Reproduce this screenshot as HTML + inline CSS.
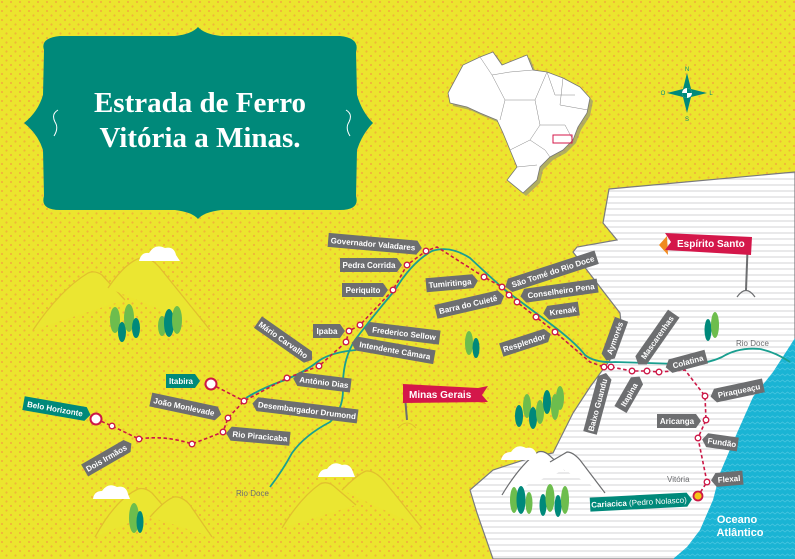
<!DOCTYPE html>
<html><head><meta charset="utf-8">
<style>
html,body{margin:0;padding:0;background:#ece52e;}
svg{display:block;}
.t{font-family:"Liberation Sans",sans-serif;font-size:8px;font-weight:bold;fill:#fff;}
.s{font-family:"Liberation Sans",sans-serif;}
.ti{font-family:"Liberation Serif",serif;font-size:29px;font-weight:bold;fill:#fff;}
</style></head><body>
<svg width="795" height="559" viewBox="0 0 795 559" xmlns="http://www.w3.org/2000/svg">
<defs>
<pattern id="dots" width="9" height="9" patternUnits="userSpaceOnUse">
<circle cx="2" cy="2" r="1.1" fill="#f0b43a"/><circle cx="6.5" cy="6.5" r="1.1" fill="#f0b43a"/>
</pattern>
<pattern id="stripes" width="10" height="6" patternUnits="userSpaceOnUse">
<rect width="10" height="6" fill="#fff"/><line x1="0" y1="5" x2="10" y2="5" stroke="#c8c8cc" stroke-width="0.8"/>
</pattern>
<pattern id="waves" width="10" height="6" patternUnits="userSpaceOnUse">
<rect width="10" height="6" fill="#1ab4d4"/><path d="M0,4 L2.5,2 L5,4 L7.5,2 L10,4" stroke="#4cc6e0" stroke-width="0.7" fill="none"/>
</pattern>
</defs>
<rect width="795" height="559" fill="#ece52e"/>
<rect width="795" height="559" fill="url(#dots)"/>

<!-- ES land -->
<path d="M609,189 L795,172 L795,559 L493,559 L477,513 L470,490 L493,470 L533,457 L553,453 L573,413 L590,387 L610,360 L622,333 L620,313 L573,252 L577,247 L617,240 L603,223 Z" fill="url(#stripes)" stroke="#7a7a7e" stroke-width="1.2"/>
<path d="M795,338 L773,372 L753,397 L737,433 L720,473 L713,500 L700,530 L687,547 L673,559 L795,559 Z" fill="url(#waves)"/>
<text class="s" x="737" y="523" font-size="11" font-weight="bold" fill="#fff" text-anchor="middle">Oceano</text>
<text class="s" x="740" y="536" font-size="11" font-weight="bold" fill="#fff" text-anchor="middle">Atlântico</text>

<!-- hills -->
<g fill="#ebe631" stroke="#e2c02e" stroke-width="1.3">
<path d="M33,330 Q60,290 88,273 Q95,270 102,275 L125,300"/>
<path d="M108,288 Q125,263 140,258 Q150,256 160,268 L210,330"/>
<path d="M95,537 Q115,500 138,489 Q145,487 152,493 L165,508"/>
<path d="M150,517 Q165,500 174,497 Q182,496 190,505 L212,537"/>
<path d="M282,528 Q300,498 320,484 Q328,480 336,488 L356,505"/>
<path d="M342,490 Q358,474 366,471 Q375,470 385,482 L422,528"/>
</g>
<g fill="#fff" stroke="#6d6e70" stroke-width="1.2">
<path d="M502,495 Q520,465 538,452 Q544,450 550,456 L565,470"/>
<path d="M550,462 Q562,455 567,452 Q573,452 580,460 L605,493"/>
</g>
<g fill="#fff">
<path d="M139,261 Q141,252 149,253 Q155,243 165,248 Q174,246 176,255 L180,261 Z"/>
<path d="M93,499 Q94,491 102,491 Q108,482 117,487 Q126,485 128,494 L130,499 Z"/>
<path d="M318,477 Q320,469 327,469 Q333,460 342,465 Q350,463 353,472 L355,477 Z"/>
<path d="M501,460 Q503,452 511,452 Q517,443 526,448 Q534,446 537,455 L539,460 Z"/>
</g>

<!-- trees -->
<g>
<ellipse cx="115" cy="320" rx="5" ry="13" fill="#6dbd4d"/><ellipse cx="122" cy="332" rx="4" ry="10" fill="#00897a"/>
<ellipse cx="129" cy="318" rx="5" ry="14" fill="#6dbd4d"/><ellipse cx="136" cy="328" rx="4" ry="10" fill="#00897a"/>
<ellipse cx="162" cy="326" rx="4" ry="10" fill="#6dbd4d"/><ellipse cx="169" cy="323" rx="5" ry="14" fill="#00897a"/><ellipse cx="177" cy="320" rx="5" ry="14" fill="#6dbd4d"/>
<ellipse cx="134" cy="518" rx="5" ry="15" fill="#6dbd4d"/><ellipse cx="140" cy="522" rx="3.5" ry="11" fill="#00897a"/>
<ellipse cx="469" cy="343" rx="4" ry="12" fill="#6dbd4d"/><ellipse cx="476" cy="348" rx="3.5" ry="10" fill="#00897a"/>
<ellipse cx="519" cy="416" rx="4" ry="11" fill="#00897a"/><ellipse cx="527" cy="406" rx="4" ry="12" fill="#6dbd4d"/><ellipse cx="533" cy="418" rx="4" ry="11" fill="#00897a"/>
<ellipse cx="540" cy="412" rx="4" ry="12" fill="#6dbd4d"/><ellipse cx="547" cy="402" rx="4" ry="12" fill="#00897a"/><ellipse cx="555" cy="407" rx="4" ry="13" fill="#6dbd4d"/><ellipse cx="560" cy="398" rx="4" ry="12" fill="#6dbd4d"/>
<ellipse cx="514" cy="500" rx="4" ry="13" fill="#6dbd4d"/><ellipse cx="521" cy="500" rx="4.5" ry="14" fill="#00897a"/><ellipse cx="529" cy="503" rx="3.5" ry="11" fill="#6dbd4d"/>
<ellipse cx="543" cy="505" rx="3.5" ry="11" fill="#00897a"/><ellipse cx="550" cy="498" rx="4.5" ry="14" fill="#6dbd4d"/><ellipse cx="558" cy="506" rx="3.5" ry="11" fill="#00897a"/><ellipse cx="565" cy="500" rx="4" ry="14" fill="#6dbd4d"/>
<ellipse cx="708" cy="330" rx="3.5" ry="11" fill="#00897a"/><ellipse cx="715" cy="325" rx="4" ry="13" fill="#6dbd4d"/>
</g>

<!-- rivers -->
<g fill="none" stroke="#1a9f90" stroke-width="1.8">
<path d="M270,487 Q283,470 292,453 Q305,435 330,422 Q343,410 343,390 Q342,360 355,340 Q370,320 395,290 Q412,262 432,251 Q450,245 470,258 Q488,275 505,290 Q525,305 548,322 Q575,342 585,355 Q595,363 615,362 L680,364 Q705,365 722,357 Q738,347 760,349 Q775,352 790,362"/>
<path d="M246,398 Q262,388 285,380 Q305,372 320,360 Q333,352 356,350"/>
</g>
<text class="s" x="236" y="496" font-size="8" fill="#6d6e70">Rio Doce</text>
<text class="s" x="736" y="346" font-size="8" fill="#6d6e70">Rio Doce</text>
<text class="s" x="667" y="482" font-size="8" fill="#6d6e70">Vitória</text>

<!-- railway -->
<g fill="none" stroke="#cc1746" stroke-width="1.6" stroke-dasharray="3.5,2.5">
<path d="M96,419 L112,426 L139,439 Q165,435 192,444 L223,432 L228,418 L244,401 L287,378 L319,366 L346,342 L349,331 L360,325 L393,290 L407,265 L426,251 L437,247 L484,277 L502,287 L509,295 L517,302 L536,317 L555,332 L590,362 L604,367 L611,367 L632,371 L647,371 L659,372 L685,370 L705,396 L706,420 L698,438 L707,482 L698,496"/>
<path d="M211,384 L244,401"/>
</g>
<g fill="#fff" stroke="#cc1746" stroke-width="1.3">
<circle cx="112" cy="426" r="2.8"/><circle cx="139" cy="439" r="2.8"/><circle cx="192" cy="444" r="2.8"/><circle cx="223" cy="432" r="2.8"/><circle cx="228" cy="418" r="2.8"/><circle cx="244" cy="401" r="2.8"/>
<circle cx="287" cy="378" r="2.8"/><circle cx="319" cy="366" r="2.8"/><circle cx="346" cy="342" r="2.8"/><circle cx="349" cy="331" r="2.8"/><circle cx="360" cy="325" r="2.8"/>
<circle cx="393" cy="290" r="2.8"/><circle cx="407" cy="265" r="2.8"/><circle cx="426" cy="251" r="2.8"/>
<circle cx="484" cy="277" r="2.8"/><circle cx="502" cy="287" r="2.8"/><circle cx="509" cy="295" r="2.8"/><circle cx="517" cy="302" r="2.8"/><circle cx="536" cy="317" r="2.8"/><circle cx="555" cy="332" r="2.8"/>
<circle cx="604" cy="367" r="2.8"/><circle cx="611" cy="367" r="2.8"/><circle cx="632" cy="371" r="2.8"/><circle cx="647" cy="371" r="2.8"/><circle cx="659" cy="372" r="2.8"/>
<circle cx="705" cy="396" r="2.8"/><circle cx="706" cy="420" r="2.8"/><circle cx="698" cy="438" r="2.8"/><circle cx="707" cy="482" r="2.8"/>
<circle cx="96" cy="419" r="5.5" stroke-width="2"/><circle cx="211" cy="384" r="5.5" stroke-width="2"/>
</g>
<circle cx="698" cy="496" r="4.5" fill="#f5c518" stroke="#cc1746" stroke-width="1.8"/>

<!-- labels -->
<g fill="#6d6e70">
<g transform="translate(375,244) rotate(5)"><polygon points="-47,-7 42,-7 47,0 42,7 -47,7"/><text class="t" x="-2" y="3" text-anchor="middle">Governador Valadares</text></g>
<g transform="translate(371,265)"><polygon points="-31,-7 26,-7 31,0 26,7 -31,7"/><text class="t" x="-2" y="3" text-anchor="middle">Pedra Corrida</text></g>
<g transform="translate(365,290)"><polygon points="-23,-7 18,-7 23,0 18,7 -23,7"/><text class="t" x="-2" y="3" text-anchor="middle">Periquito</text></g>
<g transform="translate(452,283) rotate(-5)"><polygon points="-26,-7 21,-7 26,0 21,7 -26,7"/><text class="t" x="-2" y="3" text-anchor="middle">Tumiritinga</text></g>
<g transform="translate(551,272) rotate(-18)"><polygon points="-48,0 -43,-7 48,-7 48,7 -43,7"/><text class="t" x="2" y="3" text-anchor="middle">São Tomé do Rio Doce</text></g>
<g transform="translate(470,304) rotate(-13)"><polygon points="-35,-7 30,-7 35,0 30,7 -35,7"/><text class="t" x="-2" y="3" text-anchor="middle">Barra do Cuietê</text></g>
<g transform="translate(559,291) rotate(-8)"><polygon points="-39,0 -34,-7 39,-7 39,7 -34,7"/><text class="t" x="2" y="3" text-anchor="middle">Conselheiro Pena</text></g>
<g transform="translate(561,311) rotate(-8)"><polygon points="-18,0 -13,-7 18,-7 18,7 -13,7"/><text class="t" x="2" y="3" text-anchor="middle">Krenak</text></g>
<g transform="translate(526,342) rotate(-18)"><polygon points="-26,-7 21,-7 26,0 21,7 -26,7"/><text class="t" x="-2" y="3" text-anchor="middle">Resplendor</text></g>
<g transform="translate(402,333) rotate(7)"><polygon points="-38,0 -33,-7 38,-7 38,7 -33,7"/><text class="t" x="2" y="3" text-anchor="middle">Frederico Sellow</text></g>
<g transform="translate(393,350) rotate(10)"><polygon points="-42,0 -37,-7 42,-7 42,7 -37,7"/><text class="t" x="2" y="3" text-anchor="middle">Intendente Câmara</text></g>
<g transform="translate(329,331)"><polygon points="-16,-7 11,-7 16,0 11,7 -16,7"/><text class="t" x="-2" y="3" text-anchor="middle">Ipaba</text></g>
<g transform="translate(285,341) rotate(35)"><polygon points="-33,-7 28,-7 33,0 28,7 -33,7"/><text class="t" x="-2" y="3" text-anchor="middle">Mário Carvalho</text></g>
<g transform="translate(322,382) rotate(7)"><polygon points="-29,0 -24,-7 29,-7 29,7 -24,7"/><text class="t" x="2" y="3" text-anchor="middle">Antônio Dias</text></g>
<g transform="translate(305,410) rotate(7)"><polygon points="-53,0 -48,-7 53,-7 53,7 -48,7"/><text class="t" x="2" y="3" text-anchor="middle">Desembargador Drumond</text></g>
<g transform="translate(186,407) rotate(12)"><polygon points="-36,-7 31,-7 36,0 31,7 -36,7"/><text class="t" x="-2" y="3" text-anchor="middle">João Monlevade</text></g>
<g transform="translate(258,436) rotate(5)"><polygon points="-32,0 -27,-7 32,-7 32,7 -27,7"/><text class="t" x="2" y="3" text-anchor="middle">Rio Piracicaba</text></g>
<g transform="translate(108,457) rotate(-30)"><polygon points="-27,-7 22,-7 27,0 22,7 -27,7"/><text class="t" x="-2" y="3" text-anchor="middle">Dois Irmãos</text></g>
<g transform="translate(614,340) rotate(-70)"><polygon points="-22,0 -17,-7 22,-7 22,7 -17,7"/><text class="t" x="2" y="3" text-anchor="middle">Aymorés</text></g>
<g transform="translate(656,339) rotate(-55)"><polygon points="-31,0 -26,-7 31,-7 31,7 -26,7"/><text class="t" x="2" y="3" text-anchor="middle">Mascarenhas</text></g>
<g transform="translate(686,362) rotate(-15)"><polygon points="-21,0 -16,-7 21,-7 21,7 -16,7"/><text class="t" x="2" y="3" text-anchor="middle">Colatina</text></g>
<g transform="translate(598,403) rotate(-75)"><polygon points="-31,-7 26,-7 31,0 26,7 -31,7"/><text class="t" x="-2" y="3" text-anchor="middle">Baixo Guandu</text></g>
<g transform="translate(630,393) rotate(-60)"><polygon points="-19,-7 14,-7 19,0 14,7 -19,7"/><text class="t" x="-2" y="3" text-anchor="middle">Itapina</text></g>
<g transform="translate(737,391) rotate(-12)"><polygon points="-27,0 -22,-7 27,-7 27,7 -22,7"/><text class="t" x="2" y="3" text-anchor="middle">Piraqueaçu</text></g>
<g transform="translate(679,421)"><polygon points="-22,-7 17,-7 22,0 17,7 -22,7"/><text class="t" x="-2" y="3" text-anchor="middle">Aricanga</text></g>
<g transform="translate(720,442) rotate(8)"><polygon points="-18,0 -13,-7 18,-7 18,7 -13,7"/><text class="t" x="2" y="3" text-anchor="middle">Fundão</text></g>
<g transform="translate(727,479) rotate(-5)"><polygon points="-16,0 -11,-7 16,-7 16,7 -11,7"/><text class="t" x="2" y="3" text-anchor="middle">Flexal</text></g>
</g>
<g fill="#00897a">
<g transform="translate(57,409) rotate(10)"><polygon points="-34,-7 29,-7 34,0 29,7 -34,7"/><text class="t" x="-2" y="3" text-anchor="middle">Belo Horizonte</text></g>
<g transform="translate(183,381)"><polygon points="-17,-7 12,-7 17,0 12,7 -17,7"/><text class="t" x="-2" y="3" text-anchor="middle">Itabira</text></g>
<g transform="translate(641,502) rotate(-3)"><polygon points="-51,-7 46,-7 51,0 46,7 -51,7"/><text class="t" x="-2" y="3" text-anchor="middle">Cariacica <tspan font-weight="normal">(Pedro Nolasco)</tspan></text></g>
</g>

<!-- flags -->
<line x1="404" y1="385" x2="407" y2="420" stroke="#6d6e70" stroke-width="2"/>
<path d="M398,428 Q407,418 416,428" fill="none" stroke="#e2c02e" stroke-width="1"/>
<polygon points="479,393 486,404 470,400" fill="#f08a20"/>
<polygon points="403,384 478,388 488,386 482,395 488,402 403,403" fill="#d4174a"/>
<text class="s" x="409" y="398" font-size="10" font-weight="bold" fill="#fff">Minas Gerais</text>
<line x1="748" y1="237" x2="746" y2="290" stroke="#6d6e70" stroke-width="2"/>
<path d="M737,297 Q746,284 755,297" fill="none" stroke="#6d6e70" stroke-width="1.2"/>
<polygon points="659,245 667,236 668,255" fill="#f08a20"/>
<polygon points="665,233 752,237 751,255 665,250 671,242" fill="#d4174a"/>
<text class="s" x="677" y="247" font-size="10" font-weight="bold" fill="#fff">Espírito Santo</text>

<!-- title plaque -->
<path d="M44,50 Q40,38 60,36 L175,36 Q192,34 198,27 Q204,34 221,36 L340,36 Q360,38 356,52 L357,95 Q362,112 373,123 Q362,134 357,150 L356,196 Q360,210 340,210 L221,210 Q204,212 198,219 Q192,212 175,210 L60,210 Q40,210 44,196 L43,150 Q38,134 24,123 Q38,112 43,95 Z" fill="#00897a"/>
<text class="ti" x="200" y="112" text-anchor="middle">Estrada de Ferro</text>
<text class="ti" x="200" y="147" text-anchor="middle">Vitória a Minas.</text>
<path d="M58,110 Q51,114 55,122 Q59,128 54,136" fill="none" stroke="#fff" stroke-width="1"/>
<path d="M346,110 Q353,114 349,122 Q345,128 350,136" fill="none" stroke="#fff" stroke-width="1"/>

<!-- Brazil -->
<g transform="translate(3,3)"><path d="M448,93 L463,65 L480,57 L493,52 L502,65 L527,55 L533,70 L547,72 L563,78 L580,87 L590,98 L587,113 L578,127 L573,140 L563,150 L550,157 L540,167 L537,180 L523,193 L507,180 L517,167 L510,150 L503,133 L497,120 L480,113 L467,107 L450,103 Z" fill="#8a8a80" opacity="0.6"/></g>
<path d="M448,93 L463,65 L480,57 L493,52 L502,65 L527,55 L533,70 L547,72 L563,78 L580,87 L590,98 L587,113 L578,127 L573,140 L563,150 L550,157 L540,167 L537,180 L523,193 L507,180 L517,167 L510,150 L503,133 L497,120 L480,113 L467,107 L450,103 Z" fill="#fff" stroke="#777" stroke-width="0.8"/>
<g fill="none" stroke="#888" stroke-width="0.5">
<path d="M480,57 L492,75 L510,72 L533,70"/><path d="M492,75 L505,100 L500,120"/><path d="M505,100 L535,100 L547,72"/><path d="M535,100 L540,125 L565,125 L573,140"/><path d="M540,125 L530,140 L510,150"/><path d="M530,140 L545,150 L550,157"/><path d="M517,167 L537,165"/><path d="M563,78 L560,105 L588,110"/><path d="M547,72 L555,95 L575,95"/>
</g>
<rect x="553" y="135" width="19" height="8" fill="none" stroke="#d4174a" stroke-width="1"/>

<!-- compass -->
<g transform="translate(687,93)">
<polygon points="0,-20 4,-4 20,0 4,4 0,20 -4,4 -20,0 -4,-4" fill="#00897a"/>
<circle r="5" fill="#fff"/><path d="M0,-5 A5,5 0 0 1 5,0 L0,0 Z M0,5 A5,5 0 0 1 -5,0 L0,0 Z" fill="#00897a"/>
<text class="s" x="0" y="-22" font-size="6" fill="#00897a" text-anchor="middle">N</text>
<text class="s" x="0" y="28" font-size="6" fill="#00897a" text-anchor="middle">S</text>
<text class="s" x="-24" y="2" font-size="6" fill="#00897a" text-anchor="middle">O</text>
<text class="s" x="24" y="2" font-size="6" fill="#00897a" text-anchor="middle">L</text>
</g>
</svg>
</body></html>
